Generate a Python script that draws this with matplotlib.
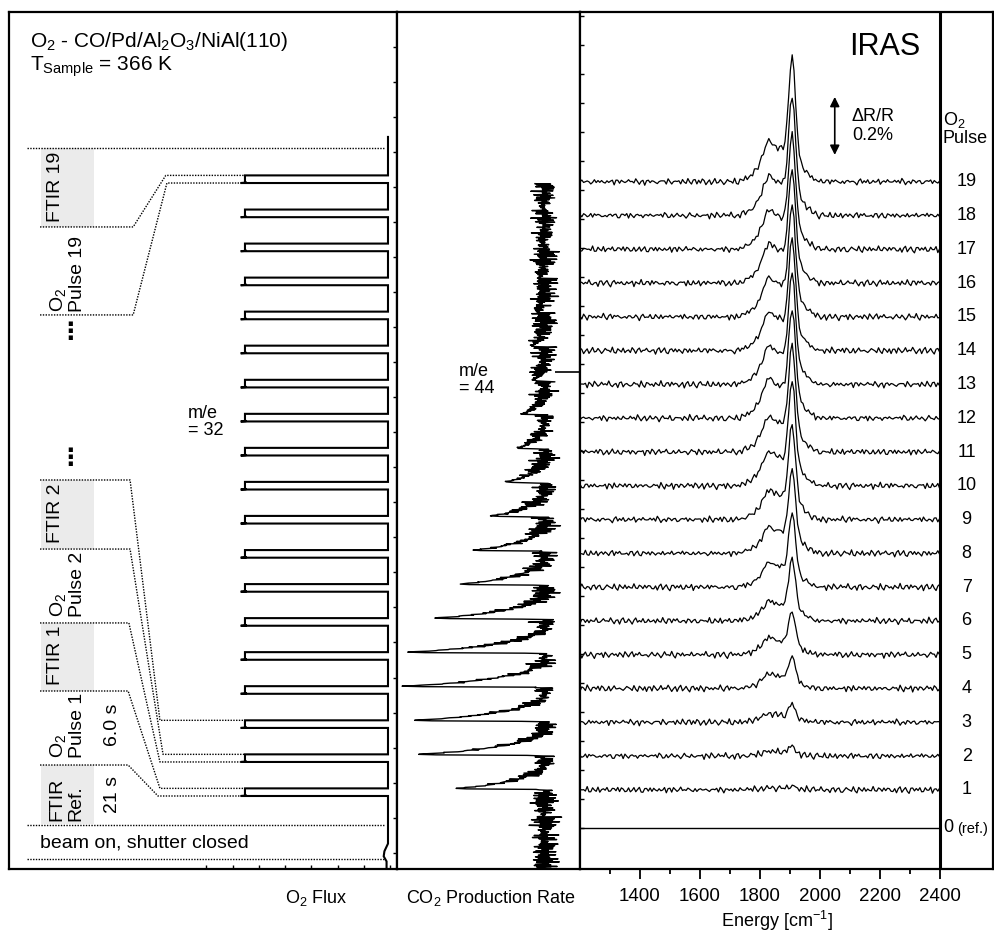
import numpy as np
import matplotlib
matplotlib.use("Agg")
import matplotlib.pyplot as plt
from matplotlib.transforms import blended_transform_factory
from matplotlib.patches import Rectangle

plt.rcParams["font.family"] = ["Liberation Sans", "DejaVu Sans"]
plt.rcParams["mathtext.fontset"] = "custom"
plt.rcParams["mathtext.rm"] = "Liberation Sans"
plt.rcParams["mathtext.it"] = "Liberation Sans:italic"
plt.rcParams["mathtext.default"] = "regular"

# ---------------- O2 pulse timing (seconds, time runs upwards) ----------------
pulse_no = list(range(1, 20))
pulse_start = [57.5, 84.3, 111.1, 138.0, 164.8, 191.6, 218.4, 245.2, 272.1, 298.9,
               325.7, 352.5, 379.3, 406.2, 433.0, 459.8, 486.6, 513.4, 540.3]
pulse_len = 6.0
flux_stop = 576.6

# one O2 tooth (time after pulse start, flux a.u.)
tooth_t = [0.0, 0.0, 0.3, 0.8, 6.0, 6.0]
tooth_flux = [0.0, 1.03, 0.99, 1.0, 1.0, 0.0]
# beam on, shutter closed
pre_t = [0.0, 6.0, 10.0, 14.0, 20.0, 30.0]
pre_flux = [0.01, 0.01, 0.03, 0.025, 0.0, 0.0]

# ---------------- CO2 production rate (m/e = 44) ----------------
co2_base = 3.5
# peak height above baseline for pulses 1..18 (trace stops at pulse 19)
co2_amp = [8.9, 12.8, 13.2, 14.2, 13.8, 11.2, 8.6, 7.2, 5.5, 4.0,
           2.8, 2.3, 1.2, 1.3, 0.8, 0.5, 0.3, 0.2]
co2_step = 0.4
co2_shape = [0, 0, 0, 0, 0, 0, 0, 0, 0, 0, 0, 0, 0,
             0.15, 0.85, 1.0, 0.93, 0.86, 0.80, 0.75, 0.70, 0.66, 0.62, 0.58,
             0.55, 0.52, 0.49, 0.46, 0.43, 0.40, 0.38, 0.35, 0.33, 0.31, 0.29,
             0.27, 0.25, 0.23, 0.21, 0.20, 0.18, 0.17, 0.15, 0.14, 0.13, 0.12,
             0.11, 0.10, 0.09, 0.08, 0.07, 0.06, 0.05, 0.05, 0.04, 0.03, 0.03,
             0.02, 0.02, 0.01, 0, 0, 0, 0, 0, 0, 0]
co2_noise_a = [0.4, -0.9, 1.3, -0.2, 0.7, -1.5, 0.3, 0.9, -0.6, 1.8, -1.1, 0.2, -0.4,
               1.0, -1.7, 0.6, 0.1, -0.8, 1.4, -0.3, -1.2, 0.8, 0.5, -0.5, 1.6, -1.0,
               0.0, 0.9, -1.4, 0.3, 1.1, -0.7, -0.2, 2.0, -1.3, 0.6, -0.1, 0.4, -0.9,
               1.2, -1.6, 0.7, 0.2, -0.6, 1.5, -0.4, -1.1, 0.8, 0.1, -1.8, 1.0, -0.3, 0.5]
co2_noise_b = [0.6, -0.2, -1.0, 0.4, 0.9, -0.7, 0.1, 1.2, -0.5, -0.3, 0.8, -1.1, 0.3,
               0.5, -0.9, 1.0, -0.2, -0.6, 0.7, 0.2, -1.3, 0.4, 0.9, -0.4, 0.0, 1.1,
               -0.8, 0.3, -0.5, 0.6, -1.0, 0.2, 0.8, -0.1, -0.7, 1.3, -0.6, 0.1, 0.5,
               -0.9, 0.4]

# ---------------- IRAS spectra ----------------
energy = np.arange(1200, 2401, 6)
main_e = list(range(1866, 1993, 6))
main_v = [0.005, 0.011, 0.044, 0.135, 0.325, 0.607, 0.882, 1.0, 0.88, 0.62, 0.38,
          0.23, 0.16, 0.12, 0.10, 0.08, 0.06, 0.05, 0.035, 0.025, 0.015, 0.01]
shoulder_e = list(range(1734, 1927, 6))
shoulder_v = [0.02, 0.04, 0.06, 0.08, 0.10, 0.12, 0.15, 0.19, 0.24, 0.30, 0.37,
              0.46, 0.57, 0.70, 0.83, 0.94, 1.0, 0.98, 0.93, 0.89, 0.86, 0.84,
              0.82, 0.78, 0.70, 0.58, 0.44, 0.31, 0.20, 0.12, 0.07, 0.04, 0.02]
# band heights in % dR/R for pulses 1..19
main_h = [0.013, 0.032, 0.059, 0.104, 0.145, 0.206, 0.245, 0.279, 0.315, 0.348,
          0.354, 0.366, 0.370, 0.370, 0.370, 0.380, 0.380, 0.394, 0.417]
shoulder_h = [0.007, 0.017, 0.031, 0.052, 0.059, 0.069, 0.086, 0.093, 0.103, 0.121,
              0.124, 0.138, 0.134, 0.134, 0.138, 0.138, 0.138, 0.138, 0.141]
ir_noise_a = [0.5, -0.3, 0.9, 0.1, -0.7, -0.2, 0.4, -0.9, 0.3, 0.8, -0.5, 0.0, 0.6,
              -0.4, -1.0, 0.2, 0.7, -0.1, 0.3, -0.6, 0.9, -0.3, -0.8, 0.5, 0.1, -0.2,
              0.6, -0.9, 0.4, 0.2, -0.5, 1.0, -0.1, -0.6, 0.3, 0.7, -0.4]
ir_noise_b = [-0.3, 0.2, 0.5, -0.6, 0.1, 0.4, -0.2, -0.5, 0.6, 0.0, -0.4, 0.3, 0.5,
              -0.1, -0.6, 0.2, 0.4, -0.3, 0.1, 0.6, -0.5, -0.2, 0.3, 0.0, -0.4, 0.5,
              0.2, -0.6, 0.1]
energy_ticks = [1400, 1600, 1800, 2000, 2200, 2400]
energy_minor = [1300, 1500, 1700, 1900, 2100, 2300]

# ============================================================================
fig = plt.figure(figsize=(9.95, 9.36), dpi=100)
axL = fig.add_axes([9 / 995, 67 / 936, 388 / 995, 857 / 936])
axM = fig.add_axes([397 / 995, 67 / 936, 183 / 995, 857 / 936])
axR = fig.add_axes([580 / 995, 67 / 936, 413 / 995, 857 / 936])
for ax in (axL, axM, axR):
    for s in ax.spines.values():
        s.set_linewidth(1.6)

t_max = 675

# ---- left panel: O2 flux ----
ft, ff = list(pre_t), list(pre_flux)
for t0 in pulse_start:
    ft += [t0 + d for d in tooth_t]
    ff += tooth_flux
ft.append(flux_stop)
ff.append(0.0)
axL.plot(ff, ft, color="k", lw=1.5, solid_joinstyle="miter")
axL.set_xlim(2.65, -0.063)
axL.set_ylim(0, t_max)
axL.set_xticks(np.arange(-0.014, 1.3, 0.1835))
axL.tick_params(axis="x", direction="in", length=3, width=1, labelbottom=False)
axL.set_yticks(np.arange(12.8, t_max, 27.6))
axL.tick_params(axis="y", direction="in", length=3, width=1, left=False, right=True,
                labelleft=False)

bt = blended_transform_factory(axL.transAxes, axL.transData)
dot = dict(color="k", lw=1.0, linestyle=(0, (1, 1)), transform=bt)

# grey FTIR boxes (axes-x, time)
for y0, y1 in [(505.7, 567.9), (252.0, 306.4), (140.2, 193.8), (35.4, 81.9)]:
    axL.add_patch(Rectangle((0.0825, y0), 0.137, y1 - y0, transform=bt,
                            facecolor="#ebebeb", edgecolor="none", zorder=0))

# full-width dotted lines
for y in (567.9, 34.7, 7.9):
    axL.plot([0.047, 0.969], [y, y], **dot)

# connectors from label borders to the pulse edges
connectors = [
    (505.7, pulse_start[18] + pulse_len, 0.320, 0.404),
    (436.4, pulse_start[18], 0.320, 0.407),
    (306.4, pulse_start[2] + pulse_len, 0.312, 0.389),
    (252.0, pulse_start[1] + pulse_len, 0.312, 0.397),
    (193.8, pulse_start[1], 0.309, 0.389),
    (140.2, pulse_start[0] + pulse_len, 0.307, 0.389),
    (81.9, pulse_start[0], 0.307, 0.384),
]
for y_lab, y_tr, xb1, xb2 in connectors:
    axL.plot([0.080, xb1, xb2, 0.606], [y_lab, y_lab, y_tr, y_tr], **dot)

lab = dict(transform=bt, rotation=90, ha="center", va="bottom", fontsize=14,
           multialignment="left", linespacing=1.15)
axL.text(0.1186, 509.6, "FTIR 19", **lab)
axL.text(0.1495, 438.7, "O$_2$\nPulse 19", **lab)
axL.text(0.1186, 256.8, "FTIR 2", **lab)
axL.text(0.1495, 198.5, "O$_2$\nPulse 2", **lab)
axL.text(0.1186, 144.9, "FTIR 1", **lab)
axL.text(0.1495, 87.4, "O$_2$\nPulse 1", **lab)
axL.text(0.1470, 37.8, "FTIR\nRef.", **lab)
axL.text(0.268, 96.9, "6.0 s", **lab)
axL.text(0.268, 44.1, "21 s", **lab)
for y in (423.0, 323.7):
    axL.text(0.157, y, "\u22ee", transform=bt, ha="center", va="center",
             fontsize=17, fontweight="bold", family="DejaVu Sans")
axL.text(0.080, 20.5, "beam on, shutter closed", transform=bt, ha="left",
         va="center", fontsize=14)
axL.text(0.461, 365.5, "m/e\n= 32", transform=bt, ha="left", va="top",
         fontsize=13, linespacing=1.0)
axL.text(0.054, 0.959, "O$_2$ - CO/Pd/Al$_2$O$_3$/NiAl(110)", transform=axL.transAxes,
         ha="left", va="baseline", fontsize=15)
axL.text(0.054, 0.931, "T$_{Sample}$ = 366 K", transform=axL.transAxes,
         ha="left", va="baseline", fontsize=15)

# ---- middle panel: CO2 production rate ----
seg_t = np.arange(len(co2_shape)) * co2_step
shape = np.array(co2_shape)
pool = 0.6 * np.tile(co2_noise_a, 60)[:2400] + 0.45 * np.tile(co2_noise_b, 70)[:2400]
t_pre = np.arange(0, pulse_start[0], co2_step)
ct = [t_pre]
cr = [co2_base + pool[:len(t_pre)]]
for i, a in enumerate(co2_amp):
    k = len(t_pre) + len(shape) * i
    nz = pool[k:k + len(shape)]
    ct.append(pulse_start[i] + seg_t)
    cr.append(co2_base + a * shape + nz * (1 - 0.8 * shape))
axM.plot(np.concatenate(cr), np.concatenate(ct), color="k", lw=1.0)
axM.set_xlim(18.3, 0)
axM.set_ylim(0, t_max)
axM.set_xticks([])
axM.set_yticks([391.5])
axM.tick_params(axis="y", direction="in", length=18, width=1.2, left=False,
                right=True, labelleft=False)
axM.text(12.1, 398.6, "m/e\n= 44", ha="left", va="top", fontsize=13, linespacing=1.0)

# ---- right panel: IRAS ----
mp = np.zeros(len(energy))
mp[np.searchsorted(energy, main_e)] = main_v
sp = np.zeros(len(energy))
sp[np.searchsorted(energy, shoulder_e)] = shoulder_v
n_pool = len(energy) * (len(pulse_no) + 2)
ipool = (0.75 * np.tile(ir_noise_a, n_pool // len(ir_noise_a) + 1)[:n_pool]
         + 0.55 * np.tile(ir_noise_b, n_pool // len(ir_noise_b) + 1)[:n_pool])
axR.plot([1200, 2400], [0, 0], color="k", lw=1.0)
for i, n in enumerate(pulse_no):
    off = 0.015 + 0.1165 * n
    nz = ipool[len(energy) * n:len(energy) * (n + 1)]
    y = off + main_h[i] * mp + shoulder_h[i] * sp + 0.012 * nz
    axR.plot(energy, y, color="k", lw=0.9)
    axR.text(2490, off, str(n), ha="center", va="center", fontsize=13)
axR.text(2411, 0, "0", ha="left", va="center", fontsize=13)
axR.text(2458, -0.002, "(ref.)", ha="left", va="center", fontsize=10.5)
axR.text(2410, 2.476, "O$_2$\nPulse", ha="left", va="top", fontsize=13,
         linespacing=1.0)
axR.axvline(2400, color="k", lw=2.2)
axR.set_xlim(1200, 2578)
axR.set_ylim(-0.1414, 2.8138)
axR.set_xticks(energy_ticks)
axR.set_xticks(energy_minor, minor=True)
axR.tick_params(axis="x", which="major", direction="out", length=7, width=1.3,
                labelsize=13.5, pad=7)
axR.tick_params(axis="x", which="minor", direction="out", length=3.5, width=1.3)
axR.set_yticks(np.arange(0, 2.81, 0.1))
axR.tick_params(axis="y", direction="in", length=3, width=1, labelleft=False)
axR.text(2337, 2.666, "IRAS", ha="right", va="baseline", fontsize=22)
axR.text(2177, 2.421, "\u0394R/R\n0.2%", ha="center", va="center", fontsize=13,
         linespacing=1.1)
axR.annotate("", xy=(2050, 2.521), xytext=(2050, 2.321),
             arrowprops=dict(arrowstyle="<|-|>", color="k", lw=1.2,
                             mutation_scale=14, shrinkA=0, shrinkB=0))

fig.text(316 / 995, 1 - 898 / 936, "O$_2$ Flux", ha="center", va="center", fontsize=13)
fig.text(491 / 995, 1 - 898 / 936, "CO$_2$ Production Rate", ha="center",
         va="center", fontsize=13)
fig.text(777 / 995, 1 - 921 / 936, "Energy [cm$^{-1}$]", ha="center", va="center",
         fontsize=13)

fig.savefig("out.png", dpi=100)
